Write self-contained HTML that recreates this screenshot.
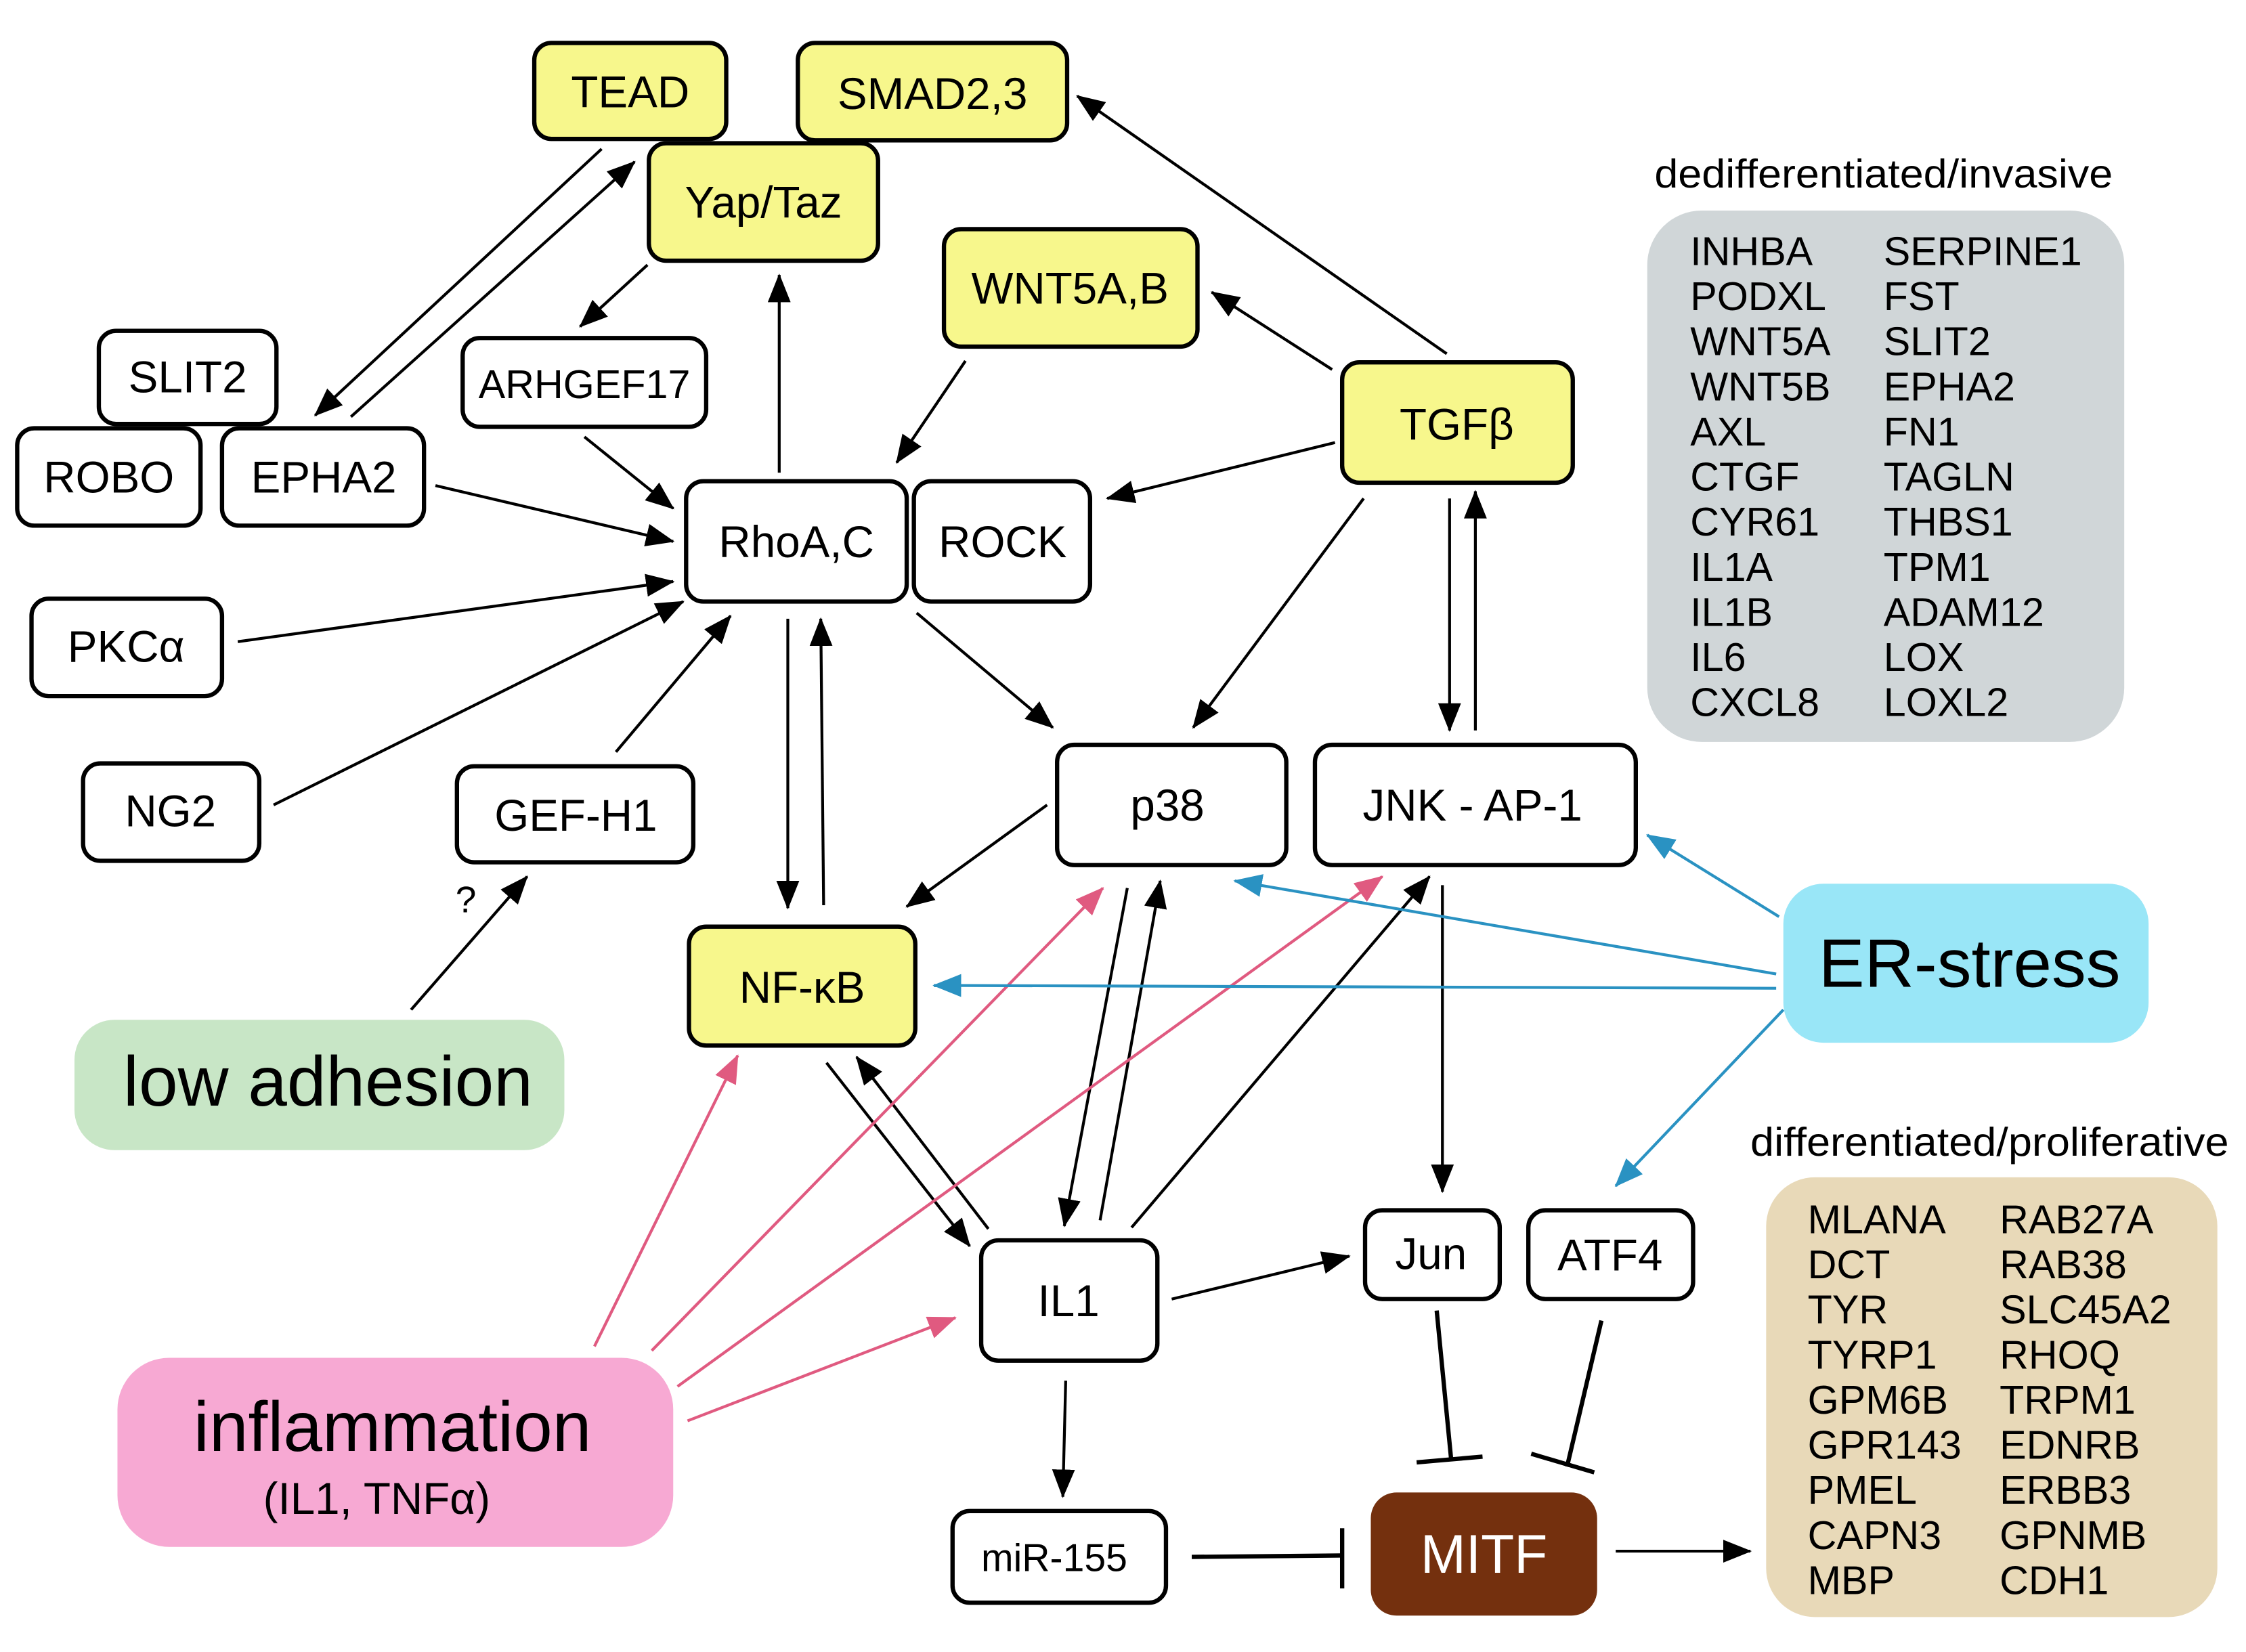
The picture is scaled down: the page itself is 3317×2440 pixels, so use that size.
<!DOCTYPE html>
<html><head><meta charset="utf-8"><style>
html,body{margin:0;padding:0;background:#fff;}
svg{display:block;}
text{font-family:"Liberation Sans",sans-serif;}
</style></head><body>
<svg width="3317" height="2440" viewBox="0 0 1568 1153.4" preserveAspectRatio="none" xmlns="http://www.w3.org/2000/svg">
<defs>
<marker id="abig" markerWidth="20" markerHeight="16" refX="19" refY="8" orient="auto" markerUnits="userSpaceOnUse" viewBox="0 0 20 16"><path d="M0,0 L20,8 L0,16 z" fill="#000"/></marker>
<marker id="ap" markerWidth="20" markerHeight="16" refX="19" refY="8" orient="auto" markerUnits="userSpaceOnUse" viewBox="0 0 20 16"><path d="M0,0 L20,8 L0,16 z" fill="#e05a80"/></marker>
<marker id="abl" markerWidth="20" markerHeight="16" refX="19" refY="8" orient="auto" markerUnits="userSpaceOnUse" viewBox="0 0 20 16"><path d="M0,0 L20,8 L0,16 z" fill="#2a92c2"/></marker>
</defs>
<rect width="1568" height="1154" fill="#fff"/>

<rect x="1150" y="147" width="333" height="371" rx="38" fill="#d0d6d8"/>
<rect x="1233" y="822" width="315" height="307" rx="34" fill="#e8d9b8"/>
<text x="1155" y="131" font-size="28" textLength="320" lengthAdjust="spacingAndGlyphs">dedifferentiated/invasive</text>
<text x="1222" y="807" font-size="28" textLength="334" lengthAdjust="spacingAndGlyphs">differentiated/proliferative</text>
<g font-size="28">
<text x="1180" y="185">INHBA</text><text x="1180" y="216.5">PODXL</text><text x="1180" y="248">WNT5A</text><text x="1180" y="279.5">WNT5B</text><text x="1180" y="311">AXL</text><text x="1180" y="342.5">CTGF</text><text x="1180" y="374">CYR61</text><text x="1180" y="405.5">IL1A</text><text x="1180" y="437">IL1B</text><text x="1180" y="468.5">IL6</text><text x="1180" y="500">CXCL8</text>
<text x="1315" y="185">SERPINE1</text><text x="1315" y="216.5">FST</text><text x="1315" y="248">SLIT2</text><text x="1315" y="279.5">EPHA2</text><text x="1315" y="311">FN1</text><text x="1315" y="342.5">TAGLN</text><text x="1315" y="374">THBS1</text><text x="1315" y="405.5">TPM1</text><text x="1315" y="437">ADAM12</text><text x="1315" y="468.5">LOX</text><text x="1315" y="500">LOXL2</text>
<text x="1262" y="861">MLANA</text><text x="1262" y="892.5">DCT</text><text x="1262" y="924">TYR</text><text x="1262" y="955.5">TYRP1</text><text x="1262" y="987">GPM6B</text><text x="1262" y="1018.5">GPR143</text><text x="1262" y="1050">PMEL</text><text x="1262" y="1081.5">CAPN3</text><text x="1262" y="1113">MBP</text>
<text x="1396" y="861">RAB27A</text><text x="1396" y="892.5">RAB38</text><text x="1396" y="924">SLC45A2</text><text x="1396" y="955.5">RHOQ</text><text x="1396" y="987">TRPM1</text><text x="1396" y="1018.5">EDNRB</text><text x="1396" y="1050">ERBB3</text><text x="1396" y="1081.5">GPNMB</text><text x="1396" y="1113">CDH1</text>
</g>

<g stroke="#000" stroke-width="2" fill="none" marker-end="url(#abig)">
<line x1="420" y1="104" x2="220" y2="290"/>
<line x1="245" y1="291" x2="443" y2="113"/>
<line x1="452" y1="185" x2="405" y2="228"/>
<line x1="544" y1="330" x2="544" y2="192"/>
<line x1="1010" y1="247" x2="752" y2="67"/>
<line x1="930" y1="258" x2="846" y2="204"/>
<line x1="674" y1="252" x2="626" y2="323"/>
<line x1="932" y1="309" x2="773" y2="348"/>
<line x1="408" y1="305" x2="470" y2="355"/>
<line x1="304" y1="339" x2="470" y2="378"/>
<line x1="166" y1="448" x2="470" y2="406"/>
<line x1="191" y1="562" x2="477" y2="420"/>
<line x1="430" y1="525" x2="510" y2="430"/>
<line x1="287" y1="705" x2="368" y2="612"/>
<line x1="550" y1="432" x2="550" y2="634"/>
<line x1="575" y1="632" x2="573" y2="432"/>
<line x1="640" y1="428" x2="735" y2="508"/>
<line x1="952" y1="348" x2="833" y2="508"/>
<line x1="1012" y1="348" x2="1012" y2="510"/>
<line x1="1030" y1="510" x2="1030" y2="343"/>
<line x1="731" y1="562" x2="633" y2="633"/>
<line x1="787" y1="620" x2="743" y2="856"/>
<line x1="768" y1="852" x2="810" y2="615"/>
<line x1="790" y1="857" x2="998" y2="612"/>
<line x1="577" y1="742" x2="677" y2="870"/>
<line x1="690" y1="858" x2="598" y2="738"/>
<line x1="1007" y1="618" x2="1007" y2="832"/>
<line x1="818" y1="907" x2="942" y2="877"/>
<line x1="744" y1="964" x2="742" y2="1045"/>
<line x1="1128" y1="1083" x2="1222" y2="1083"/>
</g>
<g stroke="#000" stroke-width="3" fill="none">
<line x1="832" y1="1087" x2="937" y2="1086"/><line x1="937" y1="1067" x2="937" y2="1109"/>
<line x1="1003" y1="915" x2="1013" y2="1018"/><line x1="989" y1="1021" x2="1035" y2="1017"/>
<line x1="1118" y1="922" x2="1094" y2="1024"/><line x1="1069" y1="1015" x2="1113" y2="1028"/>
</g>
<text x="318" y="637" font-size="26">?</text>

<g stroke="#e05a80" stroke-width="2" fill="none" marker-end="url(#ap)">
<line x1="415" y1="940" x2="515" y2="737"/>
<line x1="455" y1="943" x2="770" y2="620"/>
<line x1="473" y1="968" x2="965" y2="612"/>
<line x1="480" y1="992" x2="667" y2="920"/>
</g>
<g stroke="#2a92c2" stroke-width="2" fill="none" marker-end="url(#abl)">
<line x1="1242" y1="640" x2="1150" y2="583"/>
<line x1="1240" y1="680" x2="862" y2="615"/>
<line x1="1240" y1="690" x2="652" y2="688"/>
<line x1="1245" y1="705" x2="1128" y2="828"/>
</g>

<g stroke="#000" stroke-width="3">
<rect x="373" y="30" width="134" height="67" rx="12" fill="#f7f78c"/>
<rect x="557" y="30" width="188" height="68" rx="12" fill="#f7f78c"/>
<rect x="453" y="100" width="160" height="82" rx="12" fill="#f7f78c"/>
<rect x="659" y="160" width="177" height="82" rx="12" fill="#f7f78c"/>
<rect x="937" y="253" width="161" height="84" rx="12" fill="#f7f78c"/>
<rect x="481" y="647" width="158" height="83" rx="12" fill="#f7f78c"/>
<rect x="69" y="231" width="124" height="65" rx="12" fill="#fff"/>
<rect x="323" y="236" width="170" height="62" rx="12" fill="#fff"/>
<rect x="12" y="299" width="128" height="68" rx="12" fill="#fff"/>
<rect x="155" y="299" width="141" height="68" rx="12" fill="#fff"/>
<rect x="479" y="336" width="154" height="84" rx="12" fill="#fff"/>
<rect x="638" y="336" width="123" height="84" rx="12" fill="#fff"/>
<rect x="22" y="418" width="133" height="68" rx="12" fill="#fff"/>
<rect x="58" y="533" width="123" height="68" rx="12" fill="#fff"/>
<rect x="319" y="535" width="165" height="67" rx="12" fill="#fff"/>
<rect x="738" y="520" width="160" height="84" rx="12" fill="#fff"/>
<rect x="918" y="520" width="224" height="84" rx="12" fill="#fff"/>
<rect x="685" y="866" width="123" height="84" rx="12" fill="#fff"/>
<rect x="953" y="845" width="94" height="62" rx="12" fill="#fff"/>
<rect x="1067" y="845" width="115" height="62" rx="12" fill="#fff"/>
<rect x="665" y="1055" width="149" height="64" rx="12" fill="#fff"/>
</g>
<rect x="957" y="1042" width="158" height="86" rx="18" fill="#74300e"/>
<rect x="52" y="712" width="342" height="91" rx="28" fill="#c8e6c6"/>
<rect x="1245" y="617" width="255" height="111" rx="28" fill="#99e6f7"/>
<rect x="82" y="948" width="388" height="132" rx="36" fill="#f7a9d3"/>

<g font-size="31" text-anchor="middle">
<text x="440" y="75">TEAD</text>
<text x="651" y="76">SMAD2,3</text>
<text x="533" y="152">Yap/Taz</text>
<text x="747" y="212">WNT5A,B</text>
<text x="1017" y="307">TGFβ</text>
<text x="560" y="700">NF-κB</text>
<text x="131" y="274">SLIT2</text>
<text x="408" y="278" font-size="28">ARHGEF17</text>
<text x="76" y="344">ROBO</text>
<text x="226" y="344">EPHA2</text>
<text x="556" y="389">RhoA,C</text>
<text x="700" y="389">ROCK</text>
<text x="88" y="462">PKCα</text>
<text x="119" y="577">NG2</text>
<text x="402" y="580">GEF-H1</text>
<text x="815" y="573">p38</text>
<text x="1028" y="573">JNK - AP-1</text>
<text x="746" y="919">IL1</text>
<text x="999" y="886">Jun</text>
<text x="1124" y="887">ATF4</text>
<text x="736" y="1097" font-size="27">miR-155</text>
<text x="1036" y="1098" font-size="38" fill="#fff">MITF</text>
<text x="229" y="772" font-size="49">low adhesion</text>
<text x="1375" y="689" font-size="48">ER-stress</text>
<text x="274" y="1013" font-size="49">inflammation</text>
<text x="263" y="1057" font-size="31">(IL1, TNFα)</text>
</g>
</svg>
</body></html>
